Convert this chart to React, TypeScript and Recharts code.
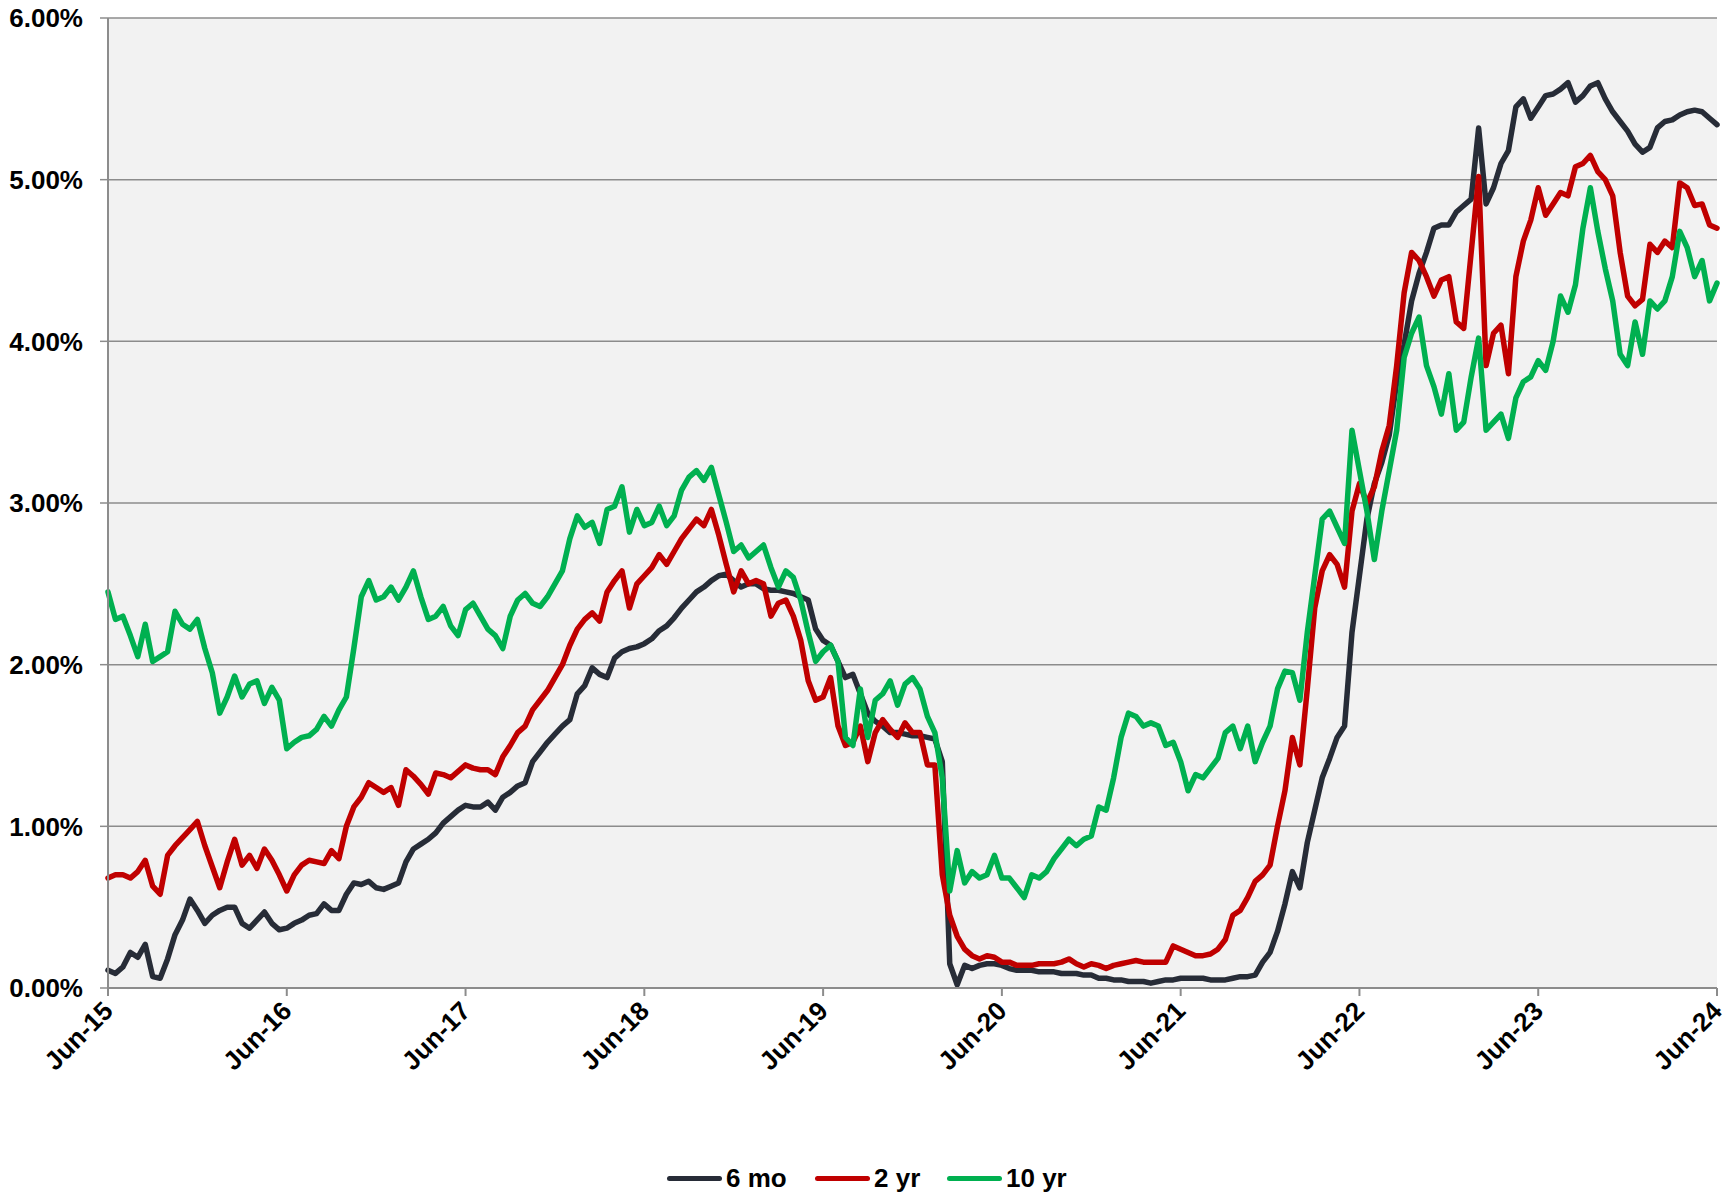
import React from 'react';
import { LineChart, Line, XAxis, YAxis, CartesianGrid } from 'recharts';

// x axis: half-month steps from Jun-15 to Jun-24
const tickLabels = ['Jun-15', 'Jun-16', 'Jun-17', 'Jun-18', 'Jun-19', 'Jun-20', 'Jun-21', 'Jun-22', 'Jun-23', 'Jun-24'];
const tickMonths = [0, 12, 24, 36, 48, 60, 72, 84, 96, 108];
const yTicks = [0, 1, 2, 3, 4, 5, 6];

// yields in %, one row per year (24 half-month points), plus the last point
const mo6 = [
  0.11, 0.09, 0.13, 0.22, 0.19, 0.27, 0.07, 0.06, 0.18, 0.33, 0.42, 0.55, 0.48, 0.40, 0.45, 0.48, 0.50, 0.50, 0.40, 0.37, 0.42, 0.47, 0.40, 0.36,
  0.37, 0.40, 0.42, 0.45, 0.46, 0.52, 0.48, 0.48, 0.58, 0.65, 0.64, 0.66, 0.62, 0.61, 0.63, 0.65, 0.78, 0.86, 0.89, 0.92, 0.96, 1.02, 1.06, 1.10,
  1.13, 1.12, 1.12, 1.15, 1.10, 1.18, 1.21, 1.25, 1.27, 1.40, 1.46, 1.52, 1.57, 1.62, 1.66, 1.82, 1.87, 1.98, 1.94, 1.92, 2.04, 2.08, 2.10, 2.11,
  2.13, 2.16, 2.21, 2.24, 2.29, 2.35, 2.40, 2.45, 2.48, 2.52, 2.55, 2.56, 2.52, 2.48, 2.50, 2.50, 2.47, 2.46, 2.46, 2.45, 2.44, 2.42, 2.40, 2.22,
  2.15, 2.12, 2.02, 1.92, 1.94, 1.82, 1.70, 1.65, 1.62, 1.58, 1.58, 1.57, 1.56, 1.56, 1.55, 1.54, 1.40, 0.15, 0.02, 0.14, 0.12, 0.14, 0.15, 0.15,
  0.14, 0.12, 0.11, 0.11, 0.11, 0.10, 0.10, 0.10, 0.09, 0.09, 0.09, 0.08, 0.08, 0.06, 0.06, 0.05, 0.05, 0.04, 0.04, 0.04, 0.03, 0.04, 0.05, 0.05,
  0.06, 0.06, 0.06, 0.06, 0.05, 0.05, 0.05, 0.06, 0.07, 0.07, 0.08, 0.16, 0.22, 0.35, 0.52, 0.72, 0.62, 0.90, 1.10, 1.30, 1.42, 1.55, 1.62, 2.20,
  2.55, 2.90, 3.12, 3.25, 3.42, 3.75, 3.98, 4.25, 4.42, 4.55, 4.70, 4.72, 4.72, 4.80, 4.84, 4.88, 5.32, 4.85, 4.95, 5.10, 5.18, 5.45, 5.50, 5.38,
  5.45, 5.52, 5.53, 5.56, 5.60, 5.48, 5.52, 5.58, 5.60, 5.50, 5.42, 5.36, 5.30, 5.22, 5.17, 5.20, 5.32, 5.36, 5.37, 5.40, 5.42, 5.43, 5.42, 5.38,
  5.34,
];

const yr2 = [
  0.68, 0.70, 0.70, 0.68, 0.72, 0.79, 0.63, 0.58, 0.82, 0.88, 0.93, 0.98, 1.03, 0.88, 0.75, 0.62, 0.78, 0.92, 0.76, 0.82, 0.74, 0.86, 0.79, 0.70,
  0.60, 0.70, 0.76, 0.79, 0.78, 0.77, 0.85, 0.80, 1.00, 1.12, 1.18, 1.27, 1.24, 1.21, 1.24, 1.13, 1.35, 1.31, 1.26, 1.20, 1.33, 1.32, 1.30, 1.34,
  1.38, 1.36, 1.35, 1.35, 1.32, 1.43, 1.50, 1.58, 1.62, 1.72, 1.78, 1.84, 1.92, 2.00, 2.12, 2.22, 2.28, 2.32, 2.27, 2.45, 2.52, 2.58, 2.35, 2.50,
  2.55, 2.60, 2.68, 2.62, 2.70, 2.78, 2.84, 2.90, 2.86, 2.96, 2.80, 2.62, 2.45, 2.58, 2.50, 2.52, 2.50, 2.30, 2.38, 2.40, 2.30, 2.15, 1.90, 1.78,
  1.80, 1.92, 1.62, 1.50, 1.52, 1.62, 1.40, 1.58, 1.66, 1.60, 1.55, 1.64, 1.58, 1.58, 1.38, 1.38, 0.70, 0.45, 0.32, 0.24, 0.20, 0.18, 0.20, 0.19,
  0.16, 0.16, 0.14, 0.14, 0.14, 0.15, 0.15, 0.15, 0.16, 0.18, 0.15, 0.13, 0.15, 0.14, 0.12, 0.14, 0.15, 0.16, 0.17, 0.16, 0.16, 0.16, 0.16, 0.26,
  0.24, 0.22, 0.20, 0.20, 0.21, 0.24, 0.30, 0.45, 0.48, 0.56, 0.66, 0.70, 0.76, 1.00, 1.22, 1.55, 1.38, 1.85, 2.35, 2.58, 2.68, 2.62, 2.48, 2.95,
  3.12, 3.00, 3.10, 3.32, 3.48, 3.85, 4.30, 4.55, 4.50, 4.40, 4.28, 4.38, 4.40, 4.12, 4.08, 4.55, 5.02, 3.85, 4.05, 4.10, 3.80, 4.40, 4.62, 4.75,
  4.95, 4.78, 4.85, 4.92, 4.90, 5.08, 5.10, 5.15, 5.05, 5.00, 4.90, 4.55, 4.28, 4.22, 4.26, 4.60, 4.55, 4.62, 4.58, 4.98, 4.95, 4.84, 4.85, 4.72,
  4.70,
];

const yr10 = [
  2.45, 2.28, 2.30, 2.18, 2.05, 2.25, 2.02, 2.05, 2.08, 2.33, 2.25, 2.22, 2.28, 2.10, 1.95, 1.70, 1.80, 1.93, 1.80, 1.88, 1.90, 1.76, 1.86, 1.78,
  1.48, 1.52, 1.55, 1.56, 1.60, 1.68, 1.62, 1.72, 1.80, 2.10, 2.42, 2.52, 2.40, 2.42, 2.48, 2.40, 2.48, 2.58, 2.42, 2.28, 2.30, 2.36, 2.24, 2.18,
  2.34, 2.38, 2.30, 2.22, 2.18, 2.10, 2.30, 2.40, 2.44, 2.38, 2.36, 2.42, 2.50, 2.58, 2.78, 2.92, 2.85, 2.88, 2.75, 2.96, 2.98, 3.10, 2.82, 2.96,
  2.86, 2.88, 2.98, 2.86, 2.92, 3.08, 3.16, 3.20, 3.14, 3.22, 3.05, 2.88, 2.70, 2.74, 2.66, 2.70, 2.74, 2.60, 2.48, 2.58, 2.54, 2.40, 2.20, 2.02,
  2.08, 2.12, 2.02, 1.55, 1.50, 1.85, 1.55, 1.78, 1.82, 1.90, 1.75, 1.88, 1.92, 1.85, 1.68, 1.58, 1.30, 0.60, 0.85, 0.65, 0.72, 0.68, 0.70, 0.82,
  0.68, 0.68, 0.62, 0.56, 0.70, 0.68, 0.72, 0.80, 0.86, 0.92, 0.88, 0.92, 0.94, 1.12, 1.10, 1.30, 1.55, 1.70, 1.68, 1.62, 1.64, 1.62, 1.50, 1.52,
  1.40, 1.22, 1.32, 1.30, 1.36, 1.42, 1.58, 1.62, 1.48, 1.62, 1.40, 1.52, 1.62, 1.85, 1.96, 1.95, 1.78, 2.20, 2.55, 2.90, 2.95, 2.85, 2.75, 3.45,
  3.20, 2.95, 2.65, 2.95, 3.20, 3.45, 3.90, 4.05, 4.15, 3.85, 3.72, 3.55, 3.80, 3.45, 3.50, 3.78, 4.02, 3.45, 3.50, 3.55, 3.40, 3.65, 3.75, 3.78,
  3.88, 3.82, 4.00, 4.28, 4.18, 4.35, 4.70, 4.95, 4.68, 4.45, 4.25, 3.92, 3.85, 4.12, 3.92, 4.25, 4.20, 4.25, 4.40, 4.68, 4.58, 4.40, 4.50, 4.25,
  4.36,
];

const months = mo6.map((_, i) => i / 2);
const data = months.map((m, i) => ({ m, mo6: mo6[i], yr2: yr2[i], yr10: yr10[i] }));

const FONT = '"Liberation Sans", Arial, sans-serif';
const AXIS = '#8c8c8c';

const series = [
  { key: 'mo6', name: '6 mo', color: '#272c37' },
  { key: 'yr2', name: '2 yr', color: '#c00000' },
  { key: 'yr10', name: '10 yr', color: '#00b050' },
];

const XTick = ({ x, y, payload }: any) => (
  <text
    x={x}
    y={y}
    dy="0.35em"
    textAnchor="end"
    transform={`rotate(-45, ${x}, ${y})`}
    fontSize={26}
    fontWeight="bold"
    fontFamily={FONT}
    fill="#000"
  >
    {tickLabels[tickMonths.indexOf(payload.value)]}
  </text>
);

// legend item positions, page coordinates minus the body margin
const legendPos = [659, 807, 939];

export default function App() {
  return (
    <div style={{ position: 'relative', width: 1716, height: 1189 }}>
      <LineChart width={1716} height={1080} data={data} margin={{ top: 10, right: 7, bottom: 0, left: 0 }}>
        <CartesianGrid horizontal vertical={false} stroke={AXIS} strokeWidth={1.5} fill="#f2f2f2" />
        <XAxis
          dataKey="m"
          type="number"
          domain={[0, 108]}
          ticks={tickMonths}
          interval={0}
          height={100}
          tickSize={8}
          tickMargin={10}
          axisLine={{ stroke: AXIS, strokeWidth: 2 }}
          tickLine={{ stroke: AXIS, strokeWidth: 2 }}
          tick={<XTick />}
        />
        <YAxis
          type="number"
          domain={[0, 6]}
          ticks={yTicks}
          interval={0}
          width={100}
          tickSize={8}
          tickMargin={17}
          axisLine={{ stroke: AXIS, strokeWidth: 2 }}
          tickLine={{ stroke: AXIS, strokeWidth: 1.5 }}
          tickFormatter={(v: number) => `${v.toFixed(2)}%`}
          tick={{ fontSize: 26, fontWeight: 'bold', fill: '#000', fontFamily: FONT }}
        />
        {series.map((s) => (
          <Line
            key={s.key}
            type="linear"
            dataKey={s.key}
            name={s.name}
            stroke={s.color}
            strokeWidth={5.5}
            strokeLinejoin="round"
            strokeLinecap="round"
            dot={false}
            isAnimationActive={false}
          />
        ))}
      </LineChart>
      {series.map((s, i) => (
        <div
          key={s.key}
          style={{
            position: 'absolute',
            left: legendPos[i],
            top: 1153,
            height: 34,
            display: 'flex',
            alignItems: 'center',
            fontFamily: FONT,
            fontWeight: 'bold',
            fontSize: 26,
            color: '#000',
          }}
        >
          <span style={{ display: 'inline-block', width: 55, height: 5, borderRadius: 3, background: s.color, marginRight: 4 }} />
          <span>{s.name}</span>
        </div>
      ))}
    </div>
  );
}
